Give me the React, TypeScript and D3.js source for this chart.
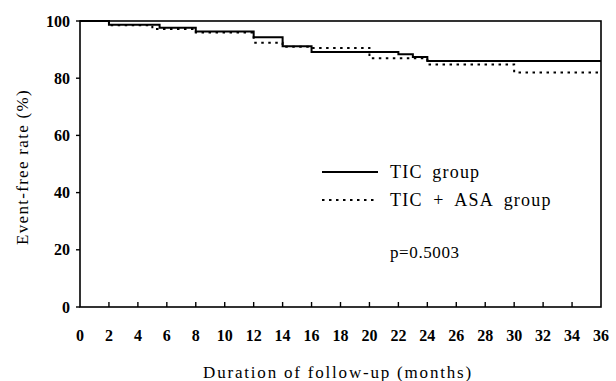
import React from 'react';
import * as d3 from 'd3';

// Kaplan-Meier step points (month, event-free %)
const ticMonths = [0, 2, 5.5, 8, 12, 14, 16, 22, 23, 24, 36];
const ticRates = [100, 98.7, 97.6, 96.3, 94.3, 91.2, 89.2, 88.4, 87.4, 86.0, 86.0];
const asaMonths = [0, 2, 5, 8, 12, 14, 16, 20, 24, 30, 36];
const asaRates = [100, 98.5, 97.2, 96.0, 92.4, 91.0, 90.6, 87.0, 84.8, 82.0, 82.0];

const xTicks = d3.range(0, 37, 2);
const yTicks = [0, 20, 40, 60, 80, 100];
const legendLabels = ['TIC group', 'TIC + ASA group'];
const pLabel = 'p=0.5003';

const W = 616;
const H = 381;
const serif = '"Liberation Serif", "DejaVu Serif", serif';

const App = () => {
  const x = d3.scaleLinear().domain([0, 36]).range([80, 601]);
  const y = d3.scaleLinear().domain([0, 100]).range([307, 21]);

  const line = d3
    .line<[number, number]>()
    .x(d => x(d[0]))
    .y(d => y(d[1]))
    .curve(d3.curveStepAfter);

  const tic = ticMonths.map((m, i) => [m, ticRates[i]] as [number, number]);
  const asa = asaMonths.map((m, i) => [m, asaRates[i]] as [number, number]);

  return (
    <svg width={W} height={H} style={{ position: 'absolute', left: 0, top: 0, background: '#fff' }}>
      {/* frame */}
      <rect x={x(0)} y={y(100)} width={x(36) - x(0)} height={y(0) - y(100)} fill="none" stroke="#000" strokeWidth={1.6} />

      {/* y ticks */}
      {yTicks.map(t => (
        <g key={t}>
          <line x1={x(0) - 4} x2={x(0)} y1={y(t)} y2={y(t)} stroke="#000" strokeWidth={1.4} />
          <text x={70} y={y(t)} dy="0.35em" textAnchor="end" fontFamily={serif} fontWeight="bold" fontSize={16}>
            {t}
          </text>
        </g>
      ))}

      {/* x ticks */}
      {xTicks.map(t => (
        <g key={t}>
          {t > 0 && t < 36 && (
            <line x1={x(t)} x2={x(t)} y1={y(0)} y2={y(0) - 5} stroke="#000" strokeWidth={1.4} />
          )}
          <text x={x(t)} y={335} dy="0.35em" textAnchor="middle" fontFamily={serif} fontWeight="bold" fontSize={16}>
            {t}
          </text>
        </g>
      ))}

      {/* curves */}
      <path d={line(asa) || ''} fill="none" stroke="#000" strokeWidth={2} strokeDasharray="2.5,4.5" />
      <path d={line(tic) || ''} fill="none" stroke="#000" strokeWidth={2} />

      {/* legend */}
      <line x1={322} x2={378} y1={172} y2={172} stroke="#000" strokeWidth={2} />
      <text x={390} y={172} dy="0.35em" fontFamily={serif} fontSize={18} letterSpacing={1.2} wordSpacing={4}>
        {legendLabels[0]}
      </text>
      <line x1={322} x2={378} y1={200} y2={200} stroke="#000" strokeWidth={2} strokeDasharray="2.5,4.5" />
      <text x={390} y={200} dy="0.35em" fontFamily={serif} fontSize={18} letterSpacing={1.2} wordSpacing={5}>
        {legendLabels[1]}
      </text>
      <text x={390} y={252} dy="0.35em" fontFamily={serif} fontSize={17} letterSpacing={0.6}>{pLabel}</text>

      {/* axis titles */}
      <text x={338} y={372} dy="0.35em" textAnchor="middle" fontFamily={serif} fontSize={17} letterSpacing={1.8}>
        Duration of follow-up (months)
      </text>
      <text
        transform="translate(22,167) rotate(-90)"
        dy="0.35em"
        textAnchor="middle"
        fontFamily={serif}
        fontSize={17}
        letterSpacing={1.3}
      >
        Event-free rate (%)
      </text>
    </svg>
  );
};

export default App;
